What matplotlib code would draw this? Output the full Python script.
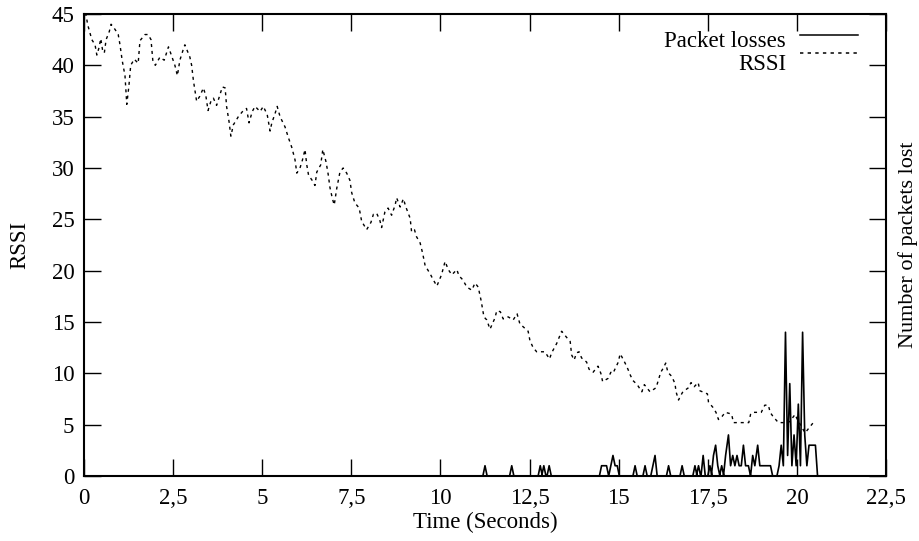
"""RSSI and packet losses over time (gnuplot-style line chart)."""
import matplotlib
matplotlib.use('Agg')
import matplotlib.pyplot as plt
from matplotlib.lines import Line2D
from matplotlib.ticker import FuncFormatter, MultipleLocator

plt.rcParams['font.family'] = ['Liberation Serif', 'DejaVu Serif']

# RSSI readings (time in seconds, RSSI value)
rssi_t = [0.0, 0.06, 0.1, 0.22, 0.31, 0.36, 0.42, 0.47, 0.52, 0.57, 0.62, 0.71, 0.76,
          0.87, 0.96, 1.01, 1.07, 1.15, 1.2, 1.26, 1.31, 1.41, 1.52, 1.57, 1.71, 1.8,
          1.88, 1.93, 2.0, 2.13, 2.25, 2.37, 2.45, 2.55, 2.62, 2.69, 2.78, 2.83, 2.97,
          3.02, 3.07, 3.16, 3.25, 3.35, 3.42, 3.48, 3.56, 3.63, 3.72, 3.82, 3.88, 3.96,
          4.0, 4.07, 4.12, 4.19, 4.33, 4.47, 4.56, 4.63, 4.72, 4.8, 4.94, 5.03, 5.14,
          5.22, 5.27, 5.36, 5.42, 5.5, 5.64, 5.73, 5.83, 5.92, 5.97, 6.06, 6.13, 6.2,
          6.25, 6.3, 6.4, 6.48, 6.53, 6.64, 6.7, 6.79, 6.85, 6.9, 6.97, 7.02, 7.09,
          7.18, 7.27, 7.37, 7.46, 7.51, 7.6, 7.72, 7.79, 7.93, 8.05, 8.12, 8.21, 8.3,
          8.35, 8.44, 8.53, 8.63, 8.73, 8.77, 8.87, 8.96, 9.03, 9.15, 9.19, 9.27, 9.33,
          9.43, 9.5, 9.57, 9.71, 9.8, 9.9, 10.03, 10.13, 10.22, 10.32, 10.46, 10.52,
          10.63, 10.74, 10.88, 10.97, 11.06, 11.14, 11.18, 11.22, 11.3, 11.39, 11.53,
          11.58, 11.68, 11.76, 11.9, 12.04, 12.15, 12.23, 12.3, 12.46, 12.51, 12.6,
          12.7, 12.93, 13.06, 13.12, 13.26, 13.33, 13.4, 13.54, 13.64, 13.68, 13.75,
          13.82, 13.89, 13.96, 14.1, 14.17, 14.28, 14.42, 14.5, 14.55, 14.7, 14.78,
          14.84, 14.92, 14.99, 15.04, 15.09, 15.18, 15.26, 15.33, 15.4, 15.52, 15.65,
          15.72, 15.88, 16.05, 16.11, 16.18, 16.25, 16.32, 16.38, 16.49, 16.58, 16.61,
          16.68, 16.72, 16.8, 16.96, 17.03, 17.12, 17.23, 17.28, 17.49, 17.52, 17.64,
          17.73, 17.8, 17.9, 17.99, 18.1, 18.17, 18.22, 18.5, 18.65, 18.7, 18.75, 19.0,
          19.1, 19.2, 19.25, 19.33, 19.48, 19.7, 19.8, 19.95, 20.0, 20.1, 20.23, 20.37,
          20.46, 20.52]
rssi_v = [45, 44.9, 44, 42.5, 42, 41, 41.7, 42.6, 41.5, 41.2, 42.5, 43.3, 44,
          43.5, 43, 42, 40.5, 39, 36.2, 38, 40, 40.6, 40.2, 42.4, 43, 43,
          42.5, 40.5, 40, 40.8, 40.5, 41.8, 41, 40, 39, 40.5, 41.5, 42, 40.8,
          40, 38.5, 36.5, 37, 37.8, 37, 35.6, 36.5, 36.8, 36.1, 37.2, 37.9, 37.8,
          36, 34.5, 33.1, 34.2, 35, 35.6, 35.8, 34.4, 35.5, 36, 35.5, 36, 35.2,
          33.6, 34.4, 35.3, 36, 35, 34, 33, 32, 30.8, 29.5, 30, 30.8, 31.8,
          30.3, 29.3, 28.8, 28.3, 29.6, 30.3, 31.8, 30.6, 29.4, 28.1, 27, 26.4, 28,
          29.6, 30, 29.5, 28.8, 27.6, 26.6, 26.1, 24.8, 24, 24.7, 25.5, 25.6, 24.9,
          24.2, 25.7, 26.1, 25.4, 26.4, 27.1, 26.2, 27, 26.2, 25.1, 23.8, 24, 23.3,
          22.7, 21.7, 20.5, 19.7, 19.1, 18.5, 19.6, 20.9, 20.1, 19.6, 20.1, 19.5,
          19.1, 18.4, 18.1, 18.8, 18.4, 17.1, 16.3, 15.5, 15.2, 14.3, 15.4,
          16.1, 16, 15.3, 15.5, 15.2, 15.8, 14.8, 14.6, 14.1, 13.2, 12.5,
          12.1, 12.1, 11.4, 12, 12.9, 13.5, 14.1, 13.5, 13.1, 11.8, 11.3,
          12, 12.1, 11.5, 11.1, 10.4, 10.1, 10.7, 10, 9.2, 9.5, 10.1,
          10, 10.6, 11.1, 11.9, 11.6, 11, 10.4, 9.8, 9.3, 8.9, 8.2,
          8.9, 8.2, 8.6, 9.3, 10.1, 10.5, 11, 10.1, 9.7, 9, 8.2,
          7.4, 7.7, 8.2, 8.6, 9.1, 8.7, 9.1, 8.3, 8, 7.2, 6.7,
          6.2, 5.5, 5.8, 6.2, 6.1, 6, 5.2, 5.2, 5.2, 6, 6.2, 6.2,
          6.9, 6.9, 6.2, 5.8, 5.2, 5.2, 5.3, 6, 5.6, 5, 4.2, 4.8,
          5.2, 5.2]

# Packet loss events (time in seconds, number of packets lost); zero elsewhere
loss_t = [11.25, 12.0, 12.8, 12.9, 13.05, 14.52, 14.6, 14.66, 14.78, 14.84, 14.9,
          14.96, 15.46, 15.74, 15.96, 16.02, 16.4, 16.78, 17.14, 17.24, 17.37, 17.56,
          17.66, 17.72, 17.78, 17.89, 18.0, 18.08, 18.14, 18.2, 18.26, 18.32, 18.38,
          18.44, 18.5, 18.56, 18.64, 18.76, 18.82, 18.9, 18.96, 19.02, 19.08, 19.14,
          19.2, 19.26, 19.5, 19.56, 19.62, 19.68, 19.74, 19.8, 19.86, 19.92, 19.98,
          20.04, 20.1, 20.16, 20.22, 20.28, 20.34, 20.4, 20.46, 20.52]
loss_n = [1, 1, 1, 1, 1, 1, 1, 1, 1, 2, 1,
          1, 1, 1, 1, 2, 1, 1, 1, 1, 2, 1,
          2, 3, 1, 1, 2, 4, 1, 2, 1, 2, 1,
          1, 3, 1, 1, 2, 1, 3, 1, 1, 1, 1,
          1, 1, 1, 3, 1, 14, 2, 9, 1, 4, 1,
          7, 1, 14, 4, 1, 3, 3, 3, 3]

x_ticks = [0, 2.5, 5, 7.5, 10, 12.5, 15, 17.5, 20, 22.5]
series_labels = ['Packet losses', 'RSSI']

FS = 16.5
RSSI_DASH = (0, (2.2, 2.8))


def spike_line(ts, ns, dt=0.06):
    """Polyline for the loss series: zero between separated events."""
    xs, ys = [0.0], [0]
    for t, n in zip(ts, ns):
        if t - xs[-1] > 1.5 * dt:
            if ys[-1] != 0:
                xs.append(xs[-1] + dt)
                ys.append(0)
            xs.append(t - dt)
            ys.append(0)
        xs.append(t)
        ys.append(n)
    xs.append(xs[-1] + dt)
    ys.append(0)
    return xs, ys


fig = plt.figure(figsize=(9.19, 5.41), dpi=100)
ax = fig.add_axes([84 / 919, 1 - 476 / 541, 802 / 919, 462 / 541])

lx, ly = spike_line(loss_t, loss_n)
ax.plot(lx, ly, color='black', lw=1.2)
ax.plot(rssi_t, rssi_v, color='black', lw=1.0, linestyle=RSSI_DASH)

ax.set_xlim(0, 22.5)
ax.set_ylim(0, 45)
ax.set_xticks(x_ticks)
ax.yaxis.set_major_locator(MultipleLocator(5))
ax.xaxis.set_major_formatter(FuncFormatter(lambda v, p: f'{v:g}'.replace('.', ',')))

ax.tick_params(direction='in', length=12, width=1, labelsize=FS,
               top=True, right=True, colors='black')
ax.tick_params(axis='x', pad=9)
ax.tick_params(axis='y', pad=7)
for s in ax.spines.values():
    s.set_linewidth(1.5)

ax.set_xlabel('Time (Seconds)', fontsize=FS, labelpad=2)
ax.set_ylabel('RSSI', fontsize=FS, labelpad=15)
fig.text(908 / 919, 1 - 245 / 541, 'Number of packets lost',
         rotation=90, ha='center', va='center', fontsize=16)


# key in gnuplot style: text right-aligned, sample line to its right
def ax_xy(px, py):
    return (px - 84) / 802, (476 - py) / 462


styles = ['-', RSSI_DASH]
text_base = [47, 70]
line_y = [35, 53]
for lab, ls, tb, ly_ in zip(series_labels, styles, text_base, line_y):
    tx, ty = ax_xy(786, tb)
    ax.text(tx, ty, lab, transform=ax.transAxes, ha='right', va='baseline',
            fontsize=FS)
    x0, y0 = ax_xy(800, ly_)
    x1, _ = ax_xy(858, ly_)
    ax.add_line(Line2D([x0, x1], [y0, y0], transform=ax.transAxes,
                       color='black', lw=1.1, linestyle=ls))

fig.savefig('out.png', dpi=100)
